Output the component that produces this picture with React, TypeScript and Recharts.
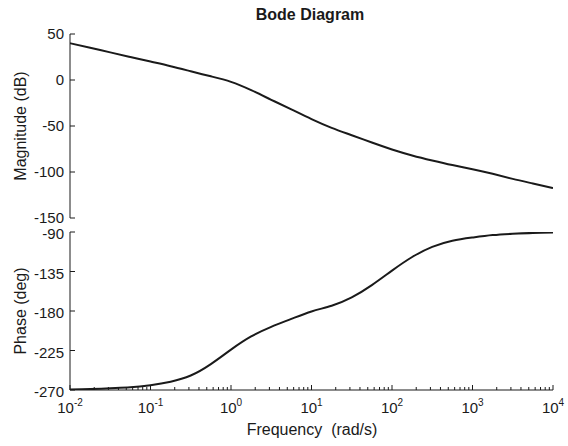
import { LineChart, Line, XAxis, YAxis } from "recharts";

// frequencies in rad/s (quarter-decade steps)
const freq = [
  0.01, 0.0178, 0.0316, 0.0562, 0.1, 0.178, 0.316, 0.562, 1, 1.78, 3.16, 5.62,
  10, 17.8, 31.6, 56.2, 100, 178, 316, 562, 1000, 1780, 3160, 5620, 10000
];

const magnitudeDb = [
  40, 35, 30, 25, 20, 15, 9.5, 4, -2, -11, -21.5, -32, -42.5, -52, -60, -68,
  -75.5, -82, -87.5, -92.5, -97, -102, -107.5, -112.5, -117.5
];

const phaseDeg = [
  -269.5, -269, -268, -267, -264.5, -260.5, -253.5, -240.5, -224, -209, -198, -189,
  -180.5, -174, -164.5, -150.5, -134, -118.5, -107, -100, -96.3, -93.5, -92, -91,
  -90.5
];

const decades = [-2, -1, 0, 1, 2, 3, 4];
const magTicks = [-150, -100, -50, 0, 50];
const phaseTicks = [-270, -225, -180, -135, -90];

const rows = freq.map((w, i) => ({ w, mag: magnitudeDb[i], phase: phaseDeg[i] }));

// major + minor ticks for the log axis
const majorTicks = decades.map((d) => Math.pow(10, d));
const xTicks: number[] = [];
decades.forEach((d) => {
  xTicks.push(Math.pow(10, d));
  if (d < 4) for (let m = 2; m <= 9; m++) xTicks.push(m * Math.pow(10, d));
});

const ink = "#1a1a1a";
const font = "Arial, 'Liberation Sans', Helvetica, sans-serif";

function isMajor(v: number) {
  return majorTicks.some((t) => Math.abs(t - v) / t < 1e-6);
}

function LogTick(props: any) {
  const { x, y, payload, side, showLabel } = props;
  const v = payload.value;
  const major = isMajor(v);
  const len = major ? 5 : 3;
  const dir = side === "top" ? 1 : -1;
  return (
    <g>
      <line x1={x} y1={y} x2={x} y2={y + dir * len} stroke={ink} strokeWidth={1} />
      {showLabel && major && (
        <text x={x} y={y + 23} textAnchor="middle" fill={ink} fontSize={15} fontFamily={font}>
          <tspan>10</tspan>
          <tspan dy={-7} fontSize={10}>
            {Math.round(Math.log10(v))}
          </tspan>
        </text>
      )}
    </g>
  );
}

function Panel({
  dataKey,
  domain,
  ticks,
  height,
  margin,
  xHeight,
  showX,
  labelShift
}: {
  dataKey: string;
  domain: [number, number];
  ticks: number[];
  height: number;
  margin: any;
  xHeight: number;
  showX: boolean;
  labelShift: number;
}) {
  return (
    <LineChart width={568} height={height} data={rows} margin={margin}>
      <XAxis
        xAxisId="b"
        dataKey="w"
        type="number"
        scale="log"
        domain={[0.01, 10000]}
        allowDataOverflow
        ticks={xTicks}
        interval={0}
        height={xHeight}
        tickSize={0}
        tickMargin={0}
        tickLine={false}
        axisLine={{ stroke: ink }}
        tick={<LogTick side="bottom" showLabel={showX} />}
      />
      <XAxis
        xAxisId="t"
        orientation="top"
        dataKey="w"
        type="number"
        scale="log"
        domain={[0.01, 10000]}
        allowDataOverflow
        ticks={xTicks}
        interval={0}
        height={0}
        tickSize={0}
        tickMargin={0}
        tickLine={false}
        axisLine={{ stroke: ink }}
        tick={<LogTick side="top" showLabel={false} />}
      />
      <YAxis
        yAxisId="l"
        domain={domain}
        allowDataOverflow
        ticks={ticks}
        interval={0}
        width={70}
        tickSize={-5}
        tickMargin={11}
        axisLine={{ stroke: ink }}
        tickLine={{ stroke: ink }}
        tick={{ fill: ink, fontSize: 15, fontFamily: font, dy: labelShift }}
      />
      <YAxis
        yAxisId="r"
        orientation="right"
        domain={domain}
        allowDataOverflow
        ticks={ticks}
        interval={0}
        width={0}
        tickSize={-5}
        tick={false}
        axisLine={{ stroke: ink }}
        tickLine={{ stroke: ink }}
      />
      <Line
        xAxisId="b"
        yAxisId="l"
        dataKey={dataKey}
        type="natural"
        stroke={ink}
        strokeWidth={2}
        dot={false}
        isAnimationActive={false}
      />
    </LineChart>
  );
}

export default function App() {
  return (
    <div
      style={{
        position: "absolute",
        left: 0,
        top: 0,
        width: 568,
        height: 446,
        background: "#fff",
        fontFamily: font,
        color: ink
      }}
    >
      <div style={titleStyle}>Bode Diagram</div>

      <div style={{ position: "absolute", left: 0, top: 0 }}>
        <Panel
          dataKey="mag"
          domain={[-150, 50]}
          ticks={magTicks}
          height={232}
          margin={{ top: 34, right: 15, bottom: 14, left: 0 }}
          xHeight={0}
          showX={false}
          labelShift={0}
        />
      </div>

      <div style={{ position: "absolute", left: 0, top: 222 }}>
        <Panel
          dataKey="phase"
          domain={[-270, -90]}
          ticks={phaseTicks}
          height={224}
          margin={{ top: 10, right: 15, bottom: 26, left: 0 }}
          xHeight={30}
          showX={true}
          labelShift={2}
        />
      </div>

      <div style={{ ...yLabel, top: 126 }}>Magnitude (dB)</div>
      <div style={{ ...yLabel, top: 311 }}>Phase (deg)</div>
      <div style={xLabel}>Frequency&nbsp;&nbsp;(rad/s)</div>
    </div>
  );
}

/* ---------- STYLES ---------- */

const titleStyle: React.CSSProperties = {
  position: "absolute",
  left: 310,
  top: 15,
  transform: "translate(-50%, -50%)",
  fontSize: 16,
  fontWeight: 700,
  whiteSpace: "nowrap"
};

const yLabel: React.CSSProperties = {
  position: "absolute",
  left: 21,
  transform: "translate(-50%, -50%) rotate(-90deg)",
  fontSize: 16,
  whiteSpace: "nowrap"
};

const xLabel: React.CSSProperties = {
  position: "absolute",
  left: 312,
  top: 430,
  transform: "translate(-50%, -50%)",
  fontSize: 16,
  whiteSpace: "nowrap"
};
